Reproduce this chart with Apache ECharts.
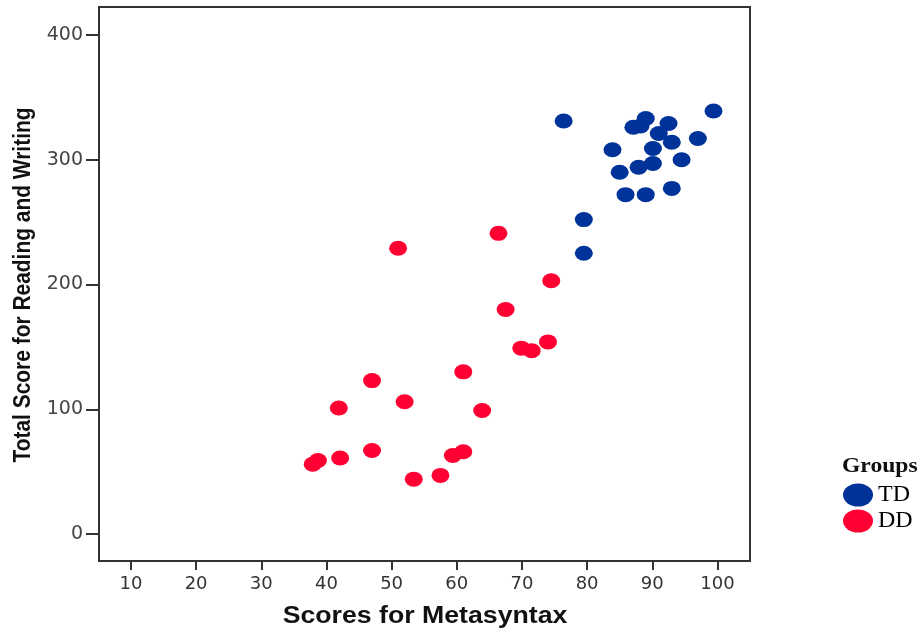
<!DOCTYPE html>
<html>
<head>
<meta charset="utf-8">
<script src="https://cdn.jsdelivr.net/npm/echarts@6/dist/echarts.min.js"></script>
<style>html,body{margin:0;padding:0;background:#fff;}#c{width:923px;height:632px;}</style>
</head>
<body>
<div id="c"></div>
<script>
var xTicks = [10, 20, 30, 40, 50, 60, 70, 80, 90, 100];
var yTicks = [0, 100, 200, 300, 400];
var groups = ['TD', 'DD'];
var tdX = [76.4, 83.9, 85.0, 85.9, 87.1, 88.2, 89.0, 87.9, 89.0, 90.1, 90.1, 91.0, 92.5, 93.0, 94.5, 93.0, 97.0, 99.4, 79.5, 79.5];
var tdY = [331, 308, 290, 272, 326, 327, 333, 294, 272, 309, 297, 321, 329, 314, 300, 277, 317, 339, 252, 225];
var ddX = [66.4, 51.0, 74.5, 67.5, 69.9, 71.5, 74.0, 61.0, 47.0, 41.9, 52.0, 63.9, 47.0, 42.1, 38.7, 37.9, 61.0, 59.4, 53.4, 57.5];
var ddY = [241, 229, 203, 180, 149, 147, 154, 130, 123, 101, 106, 99, 67, 61, 59, 56, 66, 63, 44, 47];

function pairs(xs, ys) { return xs.map(function (x, i) { return [x, ys[i]]; }); }

var ellipse = 'path://M0 11.5 A15 11.5 0 1 0 30 11.5 A15 11.5 0 1 0 0 11.5 Z';

var chart = echarts.init(document.getElementById('c'));
chart.setOption({
  animation: false,
  backgroundColor: '#fff',
  graphic: [
    {
      type: 'text', x: 425, y: 617, scaleX: 1.16,
      style: { text: 'Scores for Metasyntax', font: 'bold 23px "Liberation Sans"', fill: '#111', align: 'center', verticalAlign: 'middle' }
    },
    {
      type: 'text', x: 24, y: 285, rotation: Math.PI / 2, scaleX: 0.91,
      style: { text: 'Total Score for Reading and Writing', font: 'bold 23px "Liberation Sans"', fill: '#111', align: 'center', verticalAlign: 'middle' }
    },
    {
      type: 'text', x: 842, y: 467, scaleX: 1.18,
      style: { text: 'Groups', font: 'bold 20px "Liberation Serif"', fill: '#111', align: 'left', verticalAlign: 'middle' }
    }
  ],
  legend: {
    orient: 'vertical', left: 843, top: 483, padding: 0,
    itemWidth: 30, itemHeight: 23, itemGap: 2, itemTextGap: 2,
    icon: ellipse,
    textStyle: { fontFamily: 'Liberation Serif', fontSize: 24, lineHeight: 23, color: '#000' },
    data: groups
  },
  grid: { left: 99, top: 7, right: 173, bottom: 71, show: true, borderColor: '#333', borderWidth: 2, backgroundColor: '#fff' },
  xAxis: {
    type: 'value', min: 5.1, max: 105,
    axisLine: { show: false, onZero: false },
    axisTick: { show: true, length: 9, lineStyle: { color: '#333', width: 2 }, customValues: xTicks },
    axisLabel: { margin: 14, fontFamily: 'DejaVu Sans', fontSize: 18, color: '#333', customValues: xTicks },
    splitLine: { show: false }
  },
  yAxis: {
    type: 'value', min: -21.6, max: 422.4,
    axisLine: { show: false, onZero: false },
    axisTick: { show: true, length: 13, lineStyle: { color: '#333', width: 2 }, customValues: yTicks },
    axisLabel: { margin: 16, fontFamily: 'DejaVu Sans', fontSize: 19, color: '#444', customValues: yTicks },
    splitLine: { show: false }
  },
  series: [
    { name: groups[0], type: 'scatter', symbol: 'circle', symbolSize: [18, 15], data: pairs(tdX, tdY), itemStyle: { color: '#003399', opacity: 1 } },
    { name: groups[1], type: 'scatter', symbol: 'circle', symbolSize: [18, 15], data: pairs(ddX, ddY), itemStyle: { color: '#ff0033', opacity: 1 } }
  ]
});
</script>
</body>
</html>
